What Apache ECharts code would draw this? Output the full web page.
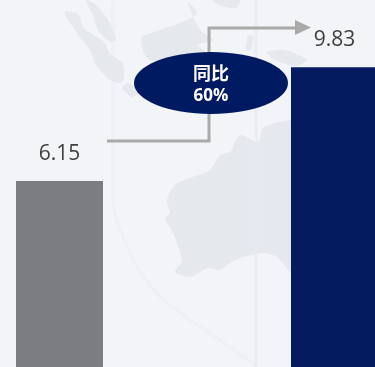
<!DOCTYPE html>
<html>
<head>
<meta charset="utf-8">
<style>
  html, body { margin: 0; padding: 0; background: #f2f4f8; }
  #chart { width: 375px; height: 367px; }
</style>
<script src="https://cdn.jsdelivr.net/npm/echarts@6/dist/echarts.min.js"></script>
</head>
<body>
<div id="chart"></div>
<script>
// Year-on-year comparison: two periods and the growth between them
const categories = ['上年同期', '本期'];
const values = [6.15, 9.83];
const barColors = ['#7c7d80', '#041c5f'];
const growthTitle = '同比';
const growthValue = '60%';

// Faint backdrop map of the region
const landColor = '#e5e8ed';
const landShapes = [
  [[64,12],[78,14],[84,28],[104,42],[110,54],[122,62],[124,78],[120,83],[110,80],[96,65],[90,50],[82,40]],
  [[86,0],[95,4],[108,20],[116,40],[110,42],[98,30],[93,15]],
  [[122,88],[128,83],[140,92],[132,97]],
  [[188,3],[197,13],[187,20],[160,30],[142,37],[143,50],[150,60],[200,60],[205,52],[198,45],[213,40],[200,30]],
  [[213,0],[240,0],[236,8],[222,6]],
  [[248,36],[253,36],[251,50],[246,50]],
  [[267,52],[285,50],[307,60],[296,66],[275,60]],
  [[240,135],[258,142],[263,128],[280,122],[300,122],[300,280],[291,273],[277,257],[263,253],[240,258],[230,263],[220,270],[208,268],[190,277],[175,272],[182,260],[173,233],[165,218],[170,213],[167,200],[175,185],[190,178],[210,170],[220,155],[230,152]]
];

const backdrop = landShapes.map(points => ({
  type: 'polygon',
  z: -10,
  silent: true,
  shape: { points, smooth: 0.25 },
  style: { fill: landColor }
}));

// Watermark strokes behind the map
backdrop.push(
  { type: 'rect', z: -11, silent: true, shape: { x: 111, y: 0, width: 4, height: 198 }, style: { fill: '#eef0f5' } },
  { type: 'rect', z: -9, silent: true, shape: { x: 254, y: 0, width: 4, height: 367 }, style: { fill: '#e6eaf2', opacity: 0.6 } },
  { type: 'polyline', z: -11, silent: true,
    shape: { points: [[112,197],[116,218],[123,237],[138,268],[160,297],[205,330],[256,365]], smooth: 0.3 },
    style: { stroke: '#eef0f5', lineWidth: 3, fill: null } }
);

const connector = [
  { type: 'polyline', z: 20, silent: true,
    shape: { points: [[107,141],[209,141],[209,28],[297,28]] },
    style: { stroke: '#aaaaaa', lineWidth: 3, fill: null } },
  { type: 'polygon', z: 21, silent: true,
    shape: { points: [[295,20],[311,27.5],[295,35]] },
    style: { fill: '#aaaaaa' } },
  { type: 'ellipse', z: 22, silent: true,
    shape: { cx: 211, cy: 83, rx: 77, ry: 31 },
    style: { fill: '#001a62' } },
  { type: 'text', z: 23, silent: true,
    style: { x: 211, y: 73, text: growthTitle, fill: '#ffffff', align: 'center', verticalAlign: 'middle',
             font: 'bold 18px "Noto Sans CJK SC", "Noto Sans", sans-serif' } },
  { type: 'text', z: 23, silent: true,
    style: { x: 211, y: 96, text: growthValue, fill: '#ffffff', align: 'center', verticalAlign: 'middle',
             font: 'bold 17px "Open Sans", "Noto Sans", sans-serif' } }
];

const chart = echarts.init(document.getElementById('chart'), null, { renderer: 'canvas' });
chart.setOption({
  backgroundColor: '#f2f4f8',
  animation: false,
  // The axis runs between the two bar centres; the baseline sits just below the frame
  grid: { left: 59.5, width: 275, top: 0, height: 367 },
  xAxis: { type: 'category', data: categories, show: false, boundaryGap: false },
  yAxis: { type: 'value', min: 0.145, max: 12, show: false },
  graphic: { elements: backdrop.concat(connector) },
  series: [{
    type: 'bar',
    barWidth: 87,
    clip: false,
    data: values.map((value, i) => ({ value, itemStyle: { color: barColors[i] } })),
    label: {
      show: true,
      position: 'top',
      distance: 17,
      color: '#404040',
      fontSize: 21,
      fontFamily: '"Open Sans", "Noto Sans", sans-serif'
    }
  }]
});
</script>
</body>
</html>
